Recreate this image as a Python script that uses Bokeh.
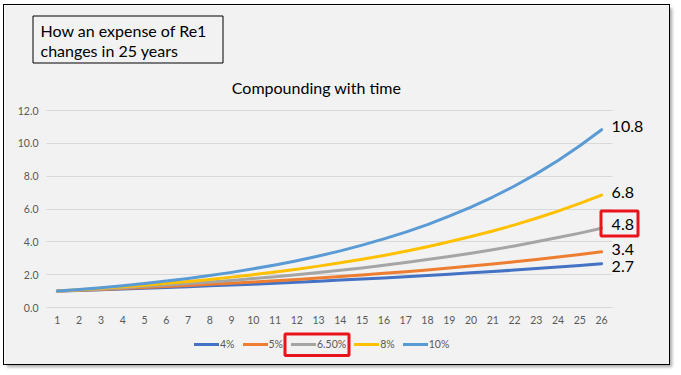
from bokeh.plotting import figure
from bokeh.models import (Range1d, FixedTicker, NumeralTickFormatter, Legend, LegendItem,
                          Label, BoxAnnotation, Grid)
from bokeh.embed import file_html
from bokeh.resources import INLINE

# ---------------- data ----------------
years = [1, 2, 3, 4, 5, 6, 7, 8, 9, 10, 11, 12, 13, 14, 15, 16, 17, 18, 19, 20,
         21, 22, 23, 24, 25, 26]
series_names = ["4%", "5%", "6.50%", "8%", "10%"]
rate_4 = [1.00, 1.04, 1.08, 1.12, 1.17, 1.22, 1.27, 1.32, 1.37, 1.42, 1.48, 1.54, 1.60,
          1.67, 1.73, 1.80, 1.87, 1.95, 2.03, 2.11, 2.19, 2.28, 2.37, 2.46, 2.56, 2.67]
rate_5 = [1.00, 1.05, 1.10, 1.16, 1.22, 1.28, 1.34, 1.41, 1.48, 1.55, 1.63, 1.71, 1.80,
          1.89, 1.98, 2.08, 2.18, 2.29, 2.41, 2.53, 2.65, 2.79, 2.93, 3.07, 3.23, 3.39]
rate_65 = [1.00, 1.07, 1.13, 1.21, 1.29, 1.37, 1.46, 1.55, 1.65, 1.76, 1.88, 2.00, 2.13,
           2.27, 2.41, 2.57, 2.74, 2.92, 3.11, 3.31, 3.52, 3.75, 4.00, 4.26, 4.53, 4.83]
rate_8 = [1.00, 1.08, 1.17, 1.26, 1.36, 1.47, 1.59, 1.71, 1.85, 2.00, 2.16, 2.33, 2.52,
          2.72, 2.94, 3.17, 3.43, 3.70, 4.00, 4.32, 4.66, 5.03, 5.44, 5.87, 6.34, 6.85]
rate_10 = [1.00, 1.10, 1.21, 1.33, 1.46, 1.61, 1.77, 1.95, 2.14, 2.36, 2.59, 2.85, 3.14,
           3.45, 3.80, 4.18, 4.59, 5.05, 5.56, 6.12, 6.73, 7.40, 8.14, 8.95, 9.85, 10.83]
end_labels = ["2.7", "3.4", "4.8", "6.8", "10.8"]
y_ticks = [0, 2, 4, 6, 8, 10, 12]
title_lines = ["How an expense of Re1", "changes in 25 years"]
chart_title = "Compounding with time"

all_series = [rate_4, rate_5, rate_65, rate_8, rate_10]

# ---------------- style / geometry ----------------
FONT = "Lato"
colors = ["#4472C4", "#ED7D31", "#A5A5A5", "#FFC000", "#5B9BD5"]
label_dy = [-3, 2, 4, 3, 3]          # screen-pixel nudges for end labels (up = +)
BG = "#f2f2f2"
RED = "#E8141B"

FIG_X0, FIG_Y0, W, H = 4, 5, 665, 359          # page pixels of the chart canvas
PLOT_L, PLOT_R, PLOT_T, PLOT_B = 46, 612, 110, 307   # page pixels of the plot area
X0, X1, Y0, Y1 = 0.5, 26.5, 0.0, 12.0


def px_x(px):
    return X0 + (px - PLOT_L) * (X1 - X0) / (PLOT_R - PLOT_L)


def px_y(py):
    return Y0 + (PLOT_B - py) * (Y1 - Y0) / (PLOT_B - PLOT_T)


p = figure(width=W, height=H,
           x_range=Range1d(px_x(FIG_X0), px_x(FIG_X0 + W)),
           y_range=Range1d(px_y(FIG_Y0 + H), px_y(FIG_Y0)),
           output_backend="svg", toolbar_location=None,
           min_border_left=0, min_border_right=0, min_border_top=0, min_border_bottom=0)
p.margin = (FIG_Y0, 681 - FIG_X0 - W, 375 - FIG_Y0 - H, FIG_X0)
p.styles = {"outline": "1px solid #000000",
            "box-shadow": "3px 3px 3px rgba(0,0,0,0.35)"}
p.background_fill_color = BG
p.border_fill_color = BG
p.outline_line_color = None

# axes (drawn inside the canvas at the plot-area edges)
for ax in (p.xaxis[0], p.yaxis[0]):
    ax.axis_line_color = None
    ax.major_tick_line_color = None
    ax.minor_tick_line_color = None
    ax.major_tick_out = 0
    ax.major_tick_in = 0
    ax.major_label_text_font = FONT
    ax.major_label_text_font_size = "10.5px"
    ax.major_label_text_color = "#595959"
    ax.major_label_standoff = 8
p.xaxis.ticker = FixedTicker(ticks=years)
p.yaxis.ticker = FixedTicker(ticks=y_ticks)
p.yaxis.formatter = NumeralTickFormatter(format="0.0")
p.yaxis.fixed_location = X0
p.xaxis.fixed_location = Y0

p.xgrid.visible = False
p.ygrid.ticker = FixedTicker(ticks=y_ticks)
p.ygrid.grid_line_color = "#d9d9d9"
p.ygrid.grid_line_width = 1
if "cross_bounds" in Grid.properties():
    p.ygrid.cross_bounds = (X0, X1)
else:
    p.ygrid.visible = False
    p.segment(x0=[X0] * len(y_ticks), y0=y_ticks, x1=[X1] * len(y_ticks), y1=y_ticks,
              line_color="#d9d9d9", line_width=1, level="underlay")

renderers = []
for vals, c in zip(all_series, colors):
    r = p.line(years, vals, line_width=3, line_color=c, line_cap="round", line_join="round")
    renderers.append(r)

LEG_LEFT, LEG_BOTTOM = 194, 352      # page pixels
legend = Legend(items=[LegendItem(label=n, renderers=[r]) for n, r in zip(series_names, renderers)],
                orientation="horizontal",
                location=(LEG_LEFT - FIG_X0, FIG_Y0 + H - LEG_BOTTOM),
                glyph_width=25, glyph_height=12, label_standoff=1, spacing=8,
                padding=0, margin=0, border_line_color=None, background_fill_alpha=0,
                label_text_font=FONT, label_text_font_size="10.5px",
                label_text_color="#595959", label_height=16, label_width=0)
p.add_layout(legend)

# end-of-line value labels
for vals, txt, dy in zip(all_series, end_labels, label_dy):
    p.add_layout(Label(x=years[-1], y=vals[-1], text=txt, x_offset=10, y_offset=dy,
                       text_baseline="middle", text_align="left", text_font=FONT,
                       text_font_size="16px", text_color="#000000"))

# red highlight boxes
p.add_layout(BoxAnnotation(left=px_x(600.5), right=px_x(637.5), top=px_y(210.5), bottom=px_y(235.5),
                           fill_alpha=0, line_color=RED, line_alpha=1, line_width=3))
p.add_layout(BoxAnnotation(left=px_x(284.5), right=px_x(348.5), top=px_y(333.5), bottom=px_y(355),
                           fill_alpha=0, line_color=RED, line_alpha=1, line_width=3))

# title text box
p.add_layout(BoxAnnotation(left=px_x(32.5), right=px_x(222.5), top=px_y(15.5), bottom=px_y(62.5),
                           fill_alpha=0, line_color="#000000", line_alpha=1, line_width=1))
for i, line in enumerate(title_lines):
    p.add_layout(Label(x=px_x(40), y=px_y(30 + 20 * i), text=line, text_baseline="middle",
                       text_align="left", text_font=FONT, text_font_size="16px",
                       text_color="#000000"))

p.add_layout(Label(x=px_x(316), y=px_y(87), text=chart_title, text_baseline="middle",
                   text_align="center", text_font=FONT, text_font_size="16px",
                   text_color="#000000"))

open("out.html", "w").write(file_html(p, INLINE))
